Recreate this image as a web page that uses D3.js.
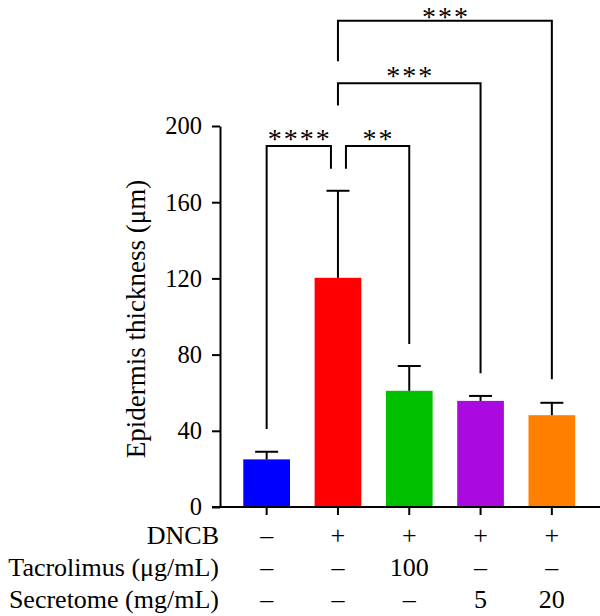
<!DOCTYPE html>
<html>
<head>
<meta charset="utf-8">
<script src="https://cdn.jsdelivr.net/npm/d3@7"></script>
<style>
  body { margin: 0; background: #fff; }
</style>
</head>
<body>
<div id="chart"></div>
<script>
const groups = ['Control', 'DNCB', 'Tacrolimus 100', 'Secretome 5', 'Secretome 20'];
const means = [25, 120.3, 61, 55.7, 48.2];
const errUp = [4, 45.7, 13, 2.6, 6.5];
const colors = ['#0000ff', '#ff0000', '#00c000', '#aa0ae0', '#ff8000'];
const yTicks = [0, 40, 80, 120, 160, 200];

const rowLabels = ['DNCB', 'Tacrolimus (\u03bcg/mL)', 'Secretome (mg/mL)'];
const rowDncb = ['\u2013', '+', '+', '+', '+'];
const rowTacro = ['\u2013', '\u2013', '100', '\u2013', '\u2013'];
const rowSecre = ['\u2013', '\u2013', '\u2013', '5', '20'];

// significance brackets: from bar, to bar, stars, level, leg bottoms (value units)
const comparisons = [
  { a: 0, b: 1, label: '****', level: 0, legA: 41, legB: 177.6 },
  { a: 1, b: 2, label: '**', level: 0, legA: 177.6, legB: 85.6 },
  { a: 1, b: 3, label: '***', level: 1, legA: 210.7, legB: 70.2 },
  { a: 1, b: 4, label: '***', level: 2, legA: 234, legB: 67 }
];

const FONT = '"Liberation Serif"';
const W = 600, H = 616;
const svg = d3.select('#chart').append('svg')
  .attr('width', W).attr('height', H);

const y = d3.scaleLinear().domain([0, 200]).range([507, 126]);
const x = d3.scaleBand().domain(groups).range([231, 587.5])
  .paddingInner(0.345).paddingOuter(0.1725);
const cx = g => x(g) + x.bandwidth() / 2;

// bars
svg.selectAll('.bar')
  .data(groups)
  .enter()
  .append('rect')
  .attr('class', 'bar')
  .attr('x', d => x(d))
  .attr('y', (d, i) => y(means[i]))
  .attr('width', x.bandwidth())
  .attr('height', (d, i) => y(0) - y(means[i]))
  .attr('fill', (d, i) => colors[i]);

// error bars (upper only)
const eb = svg.append('g').attr('stroke', '#000').attr('stroke-width', 2);
groups.forEach((g, i) => {
  const top = y(means[i] + errUp[i]);
  eb.append('line').attr('x1', cx(g)).attr('x2', cx(g))
    .attr('y1', y(means[i])).attr('y2', top);
  eb.append('line').attr('x1', cx(g) - 11.5).attr('x2', cx(g) + 11.5)
    .attr('y1', top).attr('y2', top);
});

// y axis
const yAxis = svg.append('g')
  .attr('transform', 'translate(220,0)')
  .call(d3.axisLeft(y).tickValues(yTicks).tickSize(8).tickSizeOuter(0).tickPadding(10));
yAxis.attr('font-family', null).attr('font-size', null);
yAxis.select('.domain').attr('stroke-width', 2);
yAxis.selectAll('.tick line').attr('stroke-width', 2);
yAxis.selectAll('.tick text')
  .style('font-family', FONT)
  .style('font-size', '24.5px');

// x axis
const xAxis = svg.append('g')
  .attr('transform', `translate(0,${y(0)})`)
  .call(d3.axisBottom(x).tickSize(8).tickSizeOuter(0).tickFormat(''));
xAxis.select('.domain').remove();
xAxis.selectAll('.tick line').attr('stroke-width', 2);
xAxis.append('line').attr('x1', 212).attr('x2', 600)
  .attr('stroke', '#000').attr('stroke-width', 2);

// y title
svg.append('text')
  .attr('transform', 'translate(145,319) rotate(-90)')
  .attr('text-anchor', 'middle')
  .style('font-family', FONT)
  .style('font-size', '27px')
  .text('Epidermis thickness (\u03bcm)');

// condition table
const rows = [rowDncb, rowTacro, rowSecre];
const rowY = [543.5, 575.5, 608];
rows.forEach((vals, r) => {
  svg.append('text')
    .attr('x', 219).attr('y', rowY[r])
    .attr('text-anchor', 'end')
    .style('font-family', FONT)
    .style('font-size', '26px')
    .text(rowLabels[r]);
  svg.selectAll(null)
    .data(vals)
    .enter()
    .append('text')
    .attr('x', (d, i) => cx(groups[i]))
    .attr('y', rowY[r])
    .attr('text-anchor', 'middle')
    .style('font-family', FONT)
    .style('font-size', '26px')
    .text(d => d);
});

// significance brackets
const levelY = [189.5, 222.4, 255.3];
const br = svg.append('g').attr('fill', 'none').attr('stroke', '#000').attr('stroke-width', 2);
comparisons.forEach(c => {
  let xa = cx(groups[c.a]), xb = cx(groups[c.b]);
  // two level-0 brackets meet on the same bar: split their legs
  if (c.level === 0 && c.b === 1) xb -= 7;
  if (c.level === 0 && c.a === 1) xa += 8;
  const ly = y(levelY[c.level]);
  br.append('path')
    .attr('d', `M${xa},${y(c.legA)}V${ly}H${xb}V${y(c.legB)}`);
  svg.append('text')
    .attr('x', (xa + xb) / 2 + 1)
    .attr('y', Math.max(ly + 2, 25.5))
    .attr('text-anchor', 'middle')
    .attr('letter-spacing', 2)
    .style('font-family', FONT)
    .style('font-size', '28px')
    .text(c.label);
});
</script>
</body>
</html>
